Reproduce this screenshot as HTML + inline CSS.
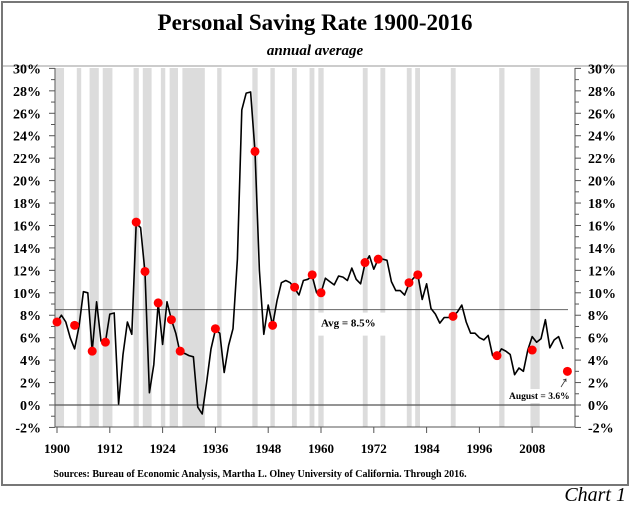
<!DOCTYPE html>
<html><head><meta charset="utf-8"><style>
html,body{margin:0;padding:0;background:#fff;}
svg{display:block;font-family:"Liberation Serif",serif;}
</style></head><body>
<svg id="c" width="630" height="505" viewBox="0 0 630 505" xmlns="http://www.w3.org/2000/svg">
<rect x="2" y="2" width="626" height="483" fill="#fff" stroke="#777" stroke-width="2"/>
<text x="315" y="30" text-anchor="middle" font-size="23" font-weight="bold">Personal Saving Rate 1900-2016</text>
<text x="315" y="55" text-anchor="middle" font-size="15" font-weight="bold" font-style="italic">annual average</text>
<line x1="3" y1="66" x2="627" y2="66" stroke="#999" stroke-width="1"/>
<g id="bars"></g><g id="grid"></g><g id="axes"></g><g id="series"></g><g id="dots"></g><g id="labels"></g>
<text x="260" y="477" text-anchor="middle" font-size="10" font-weight="bold">Sources: Bureau of Economic Analysis, Martha L. Olney University of California. Through 2016.</text>
<text x="626" y="501" text-anchor="end" font-size="20" font-style="italic">Chart 1</text>
</svg>
<script>
const years = [];
for (let y = 1900; y <= 2015; y++) years.push(y);
const savingRate = [
7.4,8.0,7.4,6.0,5.0,7.0,10.1,10.0,4.8,9.2,5.7,5.6,8.1,8.2,0.1,4.5,7.4,6.3,16.2,15.8,
11.8,1.1,3.6,9.1,5.4,9.2,7.6,6.4,4.6,4.6,4.4,4.3,-0.2,-0.8,2.0,5.0,6.7,6.4,2.9,5.3,
6.8,13.0,26.3,27.8,27.9,22.6,12.0,6.3,8.9,7.1,9.3,10.9,11.1,10.9,10.4,9.8,11.1,11.2,11.5,10.0,
10.0,11.3,11.0,10.7,11.5,11.4,11.1,12.2,11.2,10.8,12.6,13.3,12.1,13.0,13.0,12.9,11.0,10.2,10.2,9.8,
10.8,11.3,11.6,9.4,10.8,8.6,8.1,7.3,7.8,7.8,7.9,8.3,8.9,7.4,6.4,6.4,6.0,5.8,6.2,4.4,
4.3,5.0,4.8,4.5,2.7,3.3,3.0,4.9,6.1,5.6,5.9,7.6,5.1,5.8,6.1,5.0];
const dotYears = [1900,1904,1908,1911,1918,1920,1923,1926,1928,1936,1945,1949,1954,1958,1960,1970,1973,1980,1982,1990,2000,2008,2016];
const dotValues = [7.4,7.1,4.8,5.6,16.3,11.9,9.1,7.6,4.8,6.8,22.6,7.1,10.5,11.6,10.0,12.7,13.0,10.9,11.6,7.9,4.4,4.9,3.0];
const recessionStarts = [1899.7,1904.5,1907.4,1910.4,1917.4,1919.5,1923.6,1925.6,1928.5,1936.4,1944.4,1948.5,1953.4,1957.4,1959.4,1969.5,1973.5,1979.5,1981.4,1989.5,2000.5,2007.6];
const recessionEnds   = [1901.6,1905.5,1909.5,1912.6,1918.6,1921.5,1924.6,1927.5,1933.6,1937.4,1945.6,1949.5,1954.5,1958.5,1960.6,1970.6,1974.6,1980.6,1982.5,1990.6,2001.7,2009.7];
const yTicks = [-2,0,2,4,6,8,10,12,14,16,18,20,22,24,26,28,30];
const xTicks = [1900,1912,1924,1936,1948,1960,1972,1984,1996,2008];
const average = 8.5;

const NS = "http://www.w3.org/2000/svg";
const L = 55, R = 575, T = 68, B = 427;
const X = yr => 57 + (yr - 1900) * 4.40;
const Y = v => 405 - v * 11.22;
function mk(tag, attrs, parent, txt) {
  const e = document.createElementNS(NS, tag);
  for (const k in attrs) e.setAttribute(k, attrs[k]);
  if (txt !== undefined) e.textContent = txt;
  document.getElementById(parent).appendChild(e);
  return e;
}
recessionStarts.forEach((s, i) => {
  const e = mk('rect', {x: X(s), y: T, width: X(recessionEnds[i]) - X(s), height: B - T, fill: '#dcdcdc'}, 'bars');
  
  
});
let e = mk('line', {x1: L, x2: R, y1: Y(0), y2: Y(0), stroke: '#555', 'stroke-width': 1.2}, 'grid');


e = mk('line', {x1: L, x2: 568, y1: Y(average), y2: Y(average), stroke: '#666', 'stroke-width': 1}, 'grid');


e = mk('path', {d: `M${L},${T}V${B}H${R}V${T}`, fill: 'none', stroke: '#555', 'stroke-width': 1}, 'axes');


for (let v = -2; v <= 30; v++) {
  const len = v % 2 === 0 ? 6 : 4;
  mk('line', {x1: L - len, x2: L, y1: Y(v), y2: Y(v), stroke: '#555'}, 'axes');
  mk('line', {x1: R, x2: R + len, y1: Y(v), y2: Y(v), stroke: '#555'}, 'axes');
}
yTicks.forEach(v => {
  let t = mk('text', {x: 41, y: Y(v) + 5, 'text-anchor': 'end', 'font-size': 14, 'font-weight': 'bold'}, 'labels', v + '%');
  
  
  t = mk('text', {x: 588, y: Y(v) + 5, 'text-anchor': 'start', 'font-size': 14, 'font-weight': 'bold'}, 'labels', v + '%');
  
  
});
xTicks.forEach(yr => {
  mk('line', {x1: X(yr), x2: X(yr), y1: B, y2: B + 6, stroke: '#555'}, 'axes');
  const t = mk('text', {x: X(yr), y: 453, 'text-anchor': 'middle', 'font-size': 13, 'font-weight': 'bold'}, 'labels', yr);
  
  
});
const d = savingRate.map((v, i) => (i ? 'L' : 'M') + X(years[i]).toFixed(1) + ',' + Y(v).toFixed(1)).join('');
e = mk('path', {d: d, fill: 'none', stroke: '#000', 'stroke-width': 1.6, 'stroke-linejoin': 'round'}, 'series');


dotYears.forEach((yr, i) => {
  const c = mk('circle', {cx: X(yr), cy: Y(dotValues[i]), r: 4.5, fill: '#f00'}, 'dots');
  
  
});
mk('rect', {x: 318, y: Y(average) + 3, width: 70, height: 23, fill: '#fff'}, 'labels');
e = mk('text', {x: 321, y: Y(average) + 17, 'font-size': 11, 'font-weight': 'bold'}, 'labels', 'Avg = 8.5%');


mk('rect', {x: 507, y: 389, width: 66, height: 14, fill: '#fff'}, 'labels');
e = mk('text', {x: 509, y: 399, 'font-size': 9.5, 'font-weight': 'bold'}, 'labels', 'August = 3.6%');


e = mk('path', {d: 'M561,387L566,379M563,380L566,379L566,382', fill: 'none', stroke: '#333', 'stroke-width': 0.8}, 'labels');


</script>
</body></html>
